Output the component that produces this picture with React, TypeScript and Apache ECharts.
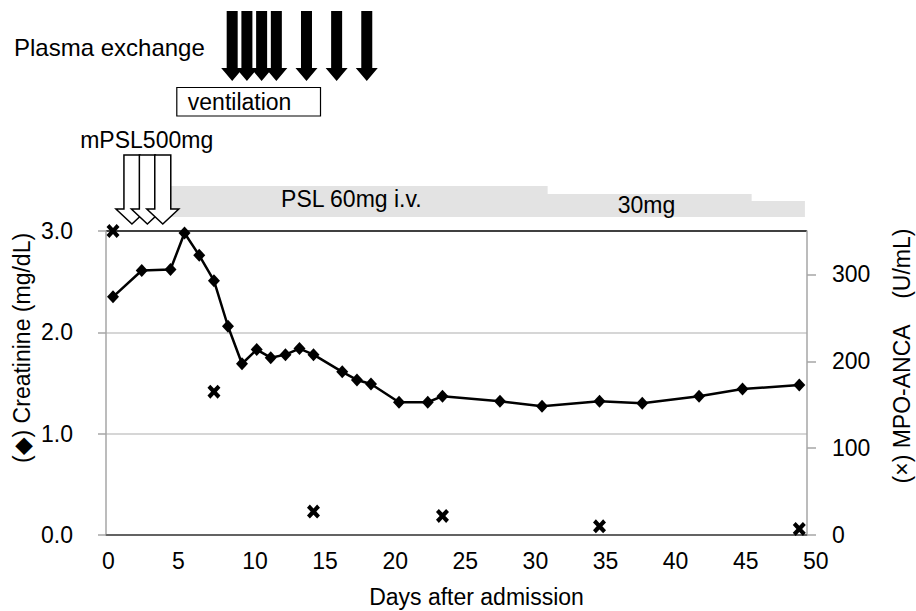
import { useEffect, useRef } from "react";
import * as echarts from "echarts";

// ---- data ----
const days = [0.5, 2.55, 4.6, 5.6, 6.65, 7.7, 8.7, 9.7, 10.75, 11.75, 12.8, 13.8, 14.8, 16.85, 17.9, 18.9, 20.9, 22.95, 24.0, 28.1, 31.1, 35.2, 38.25, 42.3, 45.4, 49.45];
const creatinine = [2.35, 2.61, 2.62, 2.98, 2.76, 2.51, 2.06, 1.69, 1.83, 1.75, 1.78, 1.84, 1.78, 1.61, 1.53, 1.49, 1.31, 1.31, 1.37, 1.32, 1.27, 1.32, 1.3, 1.37, 1.44, 1.48];
const mpoDays = [0.5, 7.7, 14.8, 24.0, 35.2, 49.45];
const mpoAnca = [350, 165, 27, 22, 10, 7];
const creatinineTicks = [0, 1, 2, 3];
const mpoTicks = [0, 100, 200, 300];

// annotations (days)
const plasmaExchangeDays = [9.0, 10.05, 11.1, 12.15, 14.3, 16.45, 18.6];
const mpslDays = [1.85, 2.95, 4.05];
const ventilationDays = [5.05, 15.3];
const pslStart = [4.6, 31.5, 46.05];
const pslEnd = [31.5, 46.05, 49.85];
const pslLabels = ["PSL 60mg i.v.", "30mg"];
const pslLabelDays = [17.5, 38.55];

const FONT = "'Liberation Sans', Arial, Helvetica, sans-serif";
const CROSS = "path://M0,2.2 L2.2,0 L5,2.8 L7.8,0 L10,2.2 L7.2,5 L10,7.8 L7.8,10 L5,7.2 L2.2,10 L0,7.8 L2.8,5 Z";

export default function App() {
  const ref = useRef<HTMLDivElement>(null);
  useEffect(() => {
    const chart = echarts.init(ref.current!, null, { renderer: "svg" });
    chart.setOption({
      animation: false,
      textStyle: { fontFamily: FONT },
      grid: { left: 106, top: 231, width: 701, height: 304 },
      xAxis: {
        type: "value",
        min: 0,
        max: 50,
        interval: 5,
        axisLine: { lineStyle: { color: "#595959", width: 1.5 } },
        axisTick: { show: false },
        splitLine: { show: false },
        axisLabel: {
          fontSize: 23,
          color: "#000",
          margin: 14,
          fontFamily: FONT,
          align: "left",
          padding: [0, 0, 0, -4],
        },
      },
      yAxis: [
        {
          type: "value",
          min: 0,
          max: 3,
          interval: 1,
          position: "left",
          axisLine: { show: true, lineStyle: { color: "#a6a6a6", width: 1.5 } },
          axisTick: { show: true, length: 8, customValues: creatinineTicks, lineStyle: { color: "#a6a6a6", width: 1.5 } },
          axisLabel: {
            customValues: creatinineTicks,
            formatter: (v: number) => v.toFixed(1),
            fontSize: 23,
            color: "#000",
            margin: 33,
            fontFamily: FONT,
          },
          splitLine: {
            show: true,
            lineStyle: { color: ["#595959", "#c8c8c8", "#c8c8c8", "#000000"], width: 1.5 },
          },
        },
        {
          type: "value",
          min: 0,
          max: 350,
          position: "right",
          axisLine: { show: true, lineStyle: { color: "#a6a6a6", width: 1.5 } },
          axisTick: { show: true, length: 9, customValues: mpoTicks, lineStyle: { color: "#a6a6a6", width: 1.5 } },
          axisLabel: { customValues: mpoTicks, fontSize: 23, color: "#000", margin: 25, fontFamily: FONT },
          splitLine: { show: false },
        },
      ],
      series: [
        {
          type: "line",
          yAxisIndex: 0,
          data: days.map((d, i) => [d, creatinine[i]]),
          symbol: "diamond",
          symbolSize: [12, 13],
          lineStyle: { color: "#000", width: 2.5 },
          itemStyle: { color: "#000" },
          clip: false,
          z: 3,
        },
        {
          type: "scatter",
          yAxisIndex: 1,
          data: mpoDays.map((d, i) => [d, mpoAnca[i]]),
          symbol: CROSS,
          symbolSize: [13, 14],
          itemStyle: { color: "#000", opacity: 1 },
          clip: false,
          z: 4,
        },
      ],
    });

    const px = (d: number) => chart.convertToPixel({ xAxisIndex: 0 }, d) as number;
    const graphics: any[] = [];

    // PSL band (step)
    const tops = [186, 194, 201];
    const bandBottom = 217;
    graphics.push({
      type: "polygon",
      shape: {
        points: [
          [px(pslStart[0]), tops[0]],
          [px(pslEnd[0]), tops[0]],
          [px(pslEnd[0]), tops[1]],
          [px(pslEnd[1]), tops[1]],
          [px(pslEnd[1]), tops[2]],
          [px(pslEnd[2]), tops[2]],
          [px(pslEnd[2]), bandBottom],
          [px(pslStart[0]), bandBottom],
        ],
      },
      style: { fill: "#e3e3e3" },
      z: 1,
    });
    const labelY = [199, 205];
    pslLabels.forEach((t, i) => {
      graphics.push({
        type: "text",
        x: px(pslLabelDays[i]),
        y: labelY[i],
        style: { text: t, fontSize: 23, fontFamily: FONT, fill: "#000", align: "center", verticalAlign: "middle" },
        z: 2,
      });
    });

    // mPSL hollow arrows
    mpslDays.forEach((d) => {
      const c = px(d);
      graphics.push({
        type: "polygon",
        shape: {
          points: [
            [c - 8, 155],
            [c + 8, 155],
            [c + 8, 209],
            [c + 16, 209],
            [c, 224],
            [c - 16, 209],
            [c - 8, 209],
          ],
        },
        style: { fill: "#fff", stroke: "#000", lineWidth: 1.5 },
        z: 3,
      });
    });
    graphics.push({
      type: "text",
      x: 146.7,
      y: 140,
      style: { text: "mPSL500mg", fontSize: 23, fontFamily: FONT, fill: "#000", align: "center", verticalAlign: "middle" },
    });

    // ventilation box
    const v0 = px(ventilationDays[0]);
    const v1 = px(ventilationDays[1]);
    graphics.push({
      type: "rect",
      shape: { x: v0, y: 87.5, width: v1 - v0, height: 28.5 },
      style: { fill: "#fff", stroke: "#000", lineWidth: 1.2 },
    });
    graphics.push({
      type: "text",
      x: v0 + 11,
      y: 101.5,
      style: { text: "ventilation", fontSize: 23, fontFamily: FONT, fill: "#000", align: "left", verticalAlign: "middle" },
    });

    // plasma exchange black arrows
    plasmaExchangeDays.forEach((d) => {
      const c = px(d);
      graphics.push({
        type: "polygon",
        shape: {
          points: [
            [c - 5.5, 11],
            [c + 5.5, 11],
            [c + 5.5, 68],
            [c + 11, 68],
            [c, 81],
            [c - 11, 68],
            [c - 5.5, 68],
          ],
        },
        style: { fill: "#000" },
      });
    });
    graphics.push({
      type: "text",
      x: 14,
      y: 47.5,
      style: { text: "Plasma exchange", fontSize: 24, fontFamily: FONT, fill: "#000", align: "left", verticalAlign: "middle" },
    });

    // axis titles
    graphics.push({
      type: "text",
      x: 476.5,
      y: 597,
      style: { text: "Days after admission", fontSize: 23, fontFamily: FONT, fill: "#000", align: "center", verticalAlign: "middle" },
    });
    graphics.push({
      type: "text",
      x: 22,
      y: 348,
      rotation: Math.PI / 2,
      style: { text: "(\u25C6) Creatinine (mg/dL)", fontSize: 23, fontFamily: FONT, fill: "#000", align: "center", verticalAlign: "middle" },
    });
    graphics.push({
      type: "text",
      x: 902,
      y: 356,
      rotation: Math.PI / 2,
      style: {
        text: "(\u00D7) MPO-ANCA\u00A0\u00A0\u00A0\u00A0(U/mL)",
        fontSize: 23,
        fontFamily: FONT,
        fill: "#000",
        align: "center",
        verticalAlign: "middle",
      },
    });

    chart.setOption({ graphic: { elements: graphics } });

    return () => chart.dispose();
  }, []);

  return (
    <div
      ref={ref}
      style={{ position: "fixed", left: 0, top: 0, width: 916, height: 611, background: "#fff" }}
    />
  );
}
